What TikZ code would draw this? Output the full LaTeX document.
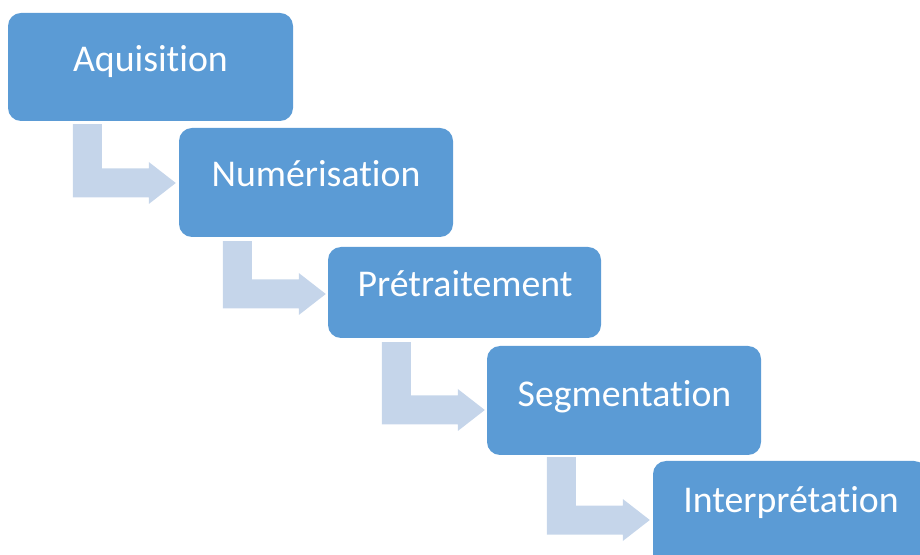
\documentclass[tikz,border=0pt]{standalone}
\usepackage{fontspec}
\setmainfont{Carlito}[Ligatures={NoCommon}]
\usetikzlibrary{calc}
\definecolor{boxblue}{HTML}{5B9BD5}
\definecolor{arrowblue}{HTML}{C5D5EA}
\tikzset{
  stepbox/.style={fill=boxblue, draw=none, rounded corners=13pt, inner sep=0pt},
  lbl/.style={text=white, inner sep=0pt, anchor=base, font=\fontsize{37.8}{45}\selectfont},
  arrowfill/.style={fill=arrowblue, draw=none}
}
\newcommand\bentarrow[2]{%
  \fill[arrowfill] let \p1=(#1), \p2=(#2) in
    (\x2-103pt,\y1) -- (\x2-74pt,\y1) -- (\x2-74pt,\y2+14.5pt) -- (\x2-27pt,\y2+14.5pt)
    -- (\x2-27pt,\y2+21pt) -- (\x2,\y2) -- (\x2-27pt,\y2-21pt) -- (\x2-27pt,\y2-14.5pt)
    -- (\x2-103pt,\y2-14.5pt) -- cycle;}
\begin{document}
\begin{tikzpicture}[x=1pt,y=1pt]
\useasboundingbox (0,0) rectangle (920,554);
\clip (0,0) rectangle (920,554);
% boxes
\node[stepbox, minimum width=285pt, minimum height=108pt] (b1) at (150.5,487) {};
\node[stepbox, minimum width=274pt, minimum height=109pt] (b2) at (316,371.5) {};
\node[stepbox, minimum width=273pt, minimum height=91pt] (b3) at (464.5,261.5) {};
\node[stepbox, minimum width=274pt, minimum height=109pt] (b4) at (624,153.5) {};
\node[stepbox, minimum width=274pt, minimum height=108pt] (b5) at (790,39) {};
% labels
\node[lbl] (t1) at (150.5,482) {Aquisition};
\node[lbl] (t2) at (316,367) {Numérisation};
\node[lbl] (t3) at (465,257) {Prétraitement};
\node[lbl] (t4) at (624.5,147) {Segmentation};
\node[lbl] (t5) at (791,42) {Interprétation};
% arrow anchors
\coordinate (a1top) at ($(b1.south)+(0,-3)$);
\coordinate (a1tip) at ($(b2.west)+(-3,-0.5)$);
\coordinate (a2top) at ($(b2.south)+(0,-4)$);
\coordinate (a2tip) at ($(b3.west)+(-2,-1.5)$);
\coordinate (a3top) at ($(b3.south)+(0,-4)$);
\coordinate (a3tip) at ($(b4.west)+(-2,-9.5)$);
\coordinate (a4top) at ($(b4.south)+(0,-2)$);
\coordinate (a4tip) at ($(b5.west)+(-3,-5)$);
\bentarrow{a1top}{a1tip}
\bentarrow{a2top}{a2tip}
\bentarrow{a3top}{a3tip}
\bentarrow{a4top}{a4tip}
\end{tikzpicture}
\end{document}
